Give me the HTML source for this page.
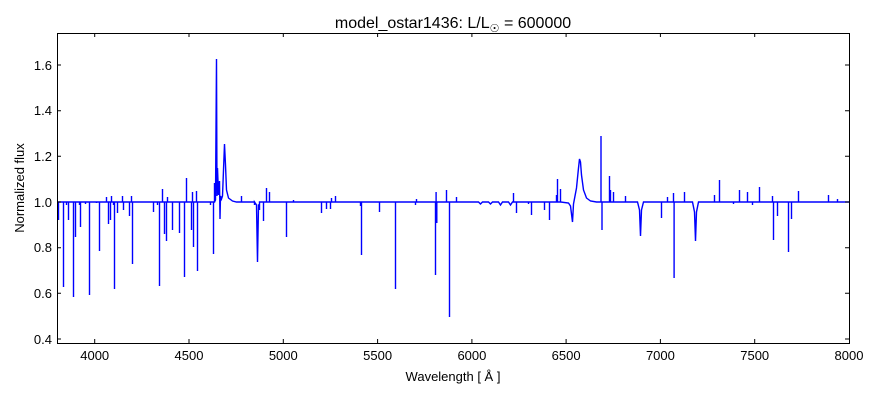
<!DOCTYPE html>
<html><head><meta charset="utf-8"><style>
html,body{margin:0;padding:0;background:#fff;}
svg{display:block;font-family:"Liberation Sans","DejaVu Sans",sans-serif;}
</style></head><body>
<svg width="880" height="400" viewBox="0 0 880 400" xmlns="http://www.w3.org/2000/svg">
<rect width="880" height="400" fill="#fff"/>
<text x="453" y="28" font-size="16" text-anchor="middle">model_ostar1436: L/L<tspan font-size="11" dy="4">☉</tspan><tspan dy="-4"> = 600000</tspan></text>
<path transform="translate(0.5,0)" fill="none" stroke="#0000ff" stroke-width="1.4" d="M57 202
H58 V220 V202 H63 V287 V202 H66 V205 V202 H68 V220 V202 H73 V297 V202 H75 V237 V202 H79 V205 V202 H80 V227 V202 H85 V204 V202 H89 V295 V202 H96 V203 V202 H99 V251 V202
H106 V197 V202 H108 V224 V202 H110 V220 V202 H111 V196 V202 H113 V205 V202 H114 V289 V202 H117 V213 V202 H122 V196 V202 H123 V210 V202 H129 V216 V202 H131 V196 V202 H132 V264 V202
H153 V212 V202 H157 V205 V202 H159 V286 V202 H162 V189 V202 H164 V234 V202 H166 V241 V202 H167 V197 V202 H172 V230 V202 H179 V233 V202 H184 V277 V202 H186 V178 V202
H191 V230 V202 H192 V192 V202 H193 V247 V202 H196 V191 V202 H197 V271 V202 H210 V205 V202 H213 V254 V202 H214 V183 V202
L215 200 L216 59 L216.5 196 L217 168 L218 195 L219 181 L219.5 219 L220 196 L221 199 L222 196 L223 170 L224 144 L225 165 L226 190 L228 198 L232 201 L236 202
H241 V196 V202 H254 V205 V202 L256 205 L257 262 L258 205 H259 V210 V202 H263 V221 V202 H266 V188 V202 H269 V192 V202 H286 V237 V202 H293 V200 V202
H321 V213 V202 H326 V209 V202 H330 V209 V202 H331 V198 V202 H335 V196 V202 H360 V206 V202 H361 V255 V202 H379 V212 V202 H395 V289 V202 H415 V205 V202 H416 V199 V202
H435 V275 V202 H435.6 V192 V202 H436.3 V223 V202 H446 V190 V202 H449 V317 V202 H456 V197 V202
H478 L480 204 L482 202 H488 L490 204 L492 202 H498 L500 205 L502 202 H508 L510 205 L512 202 H513 V193 V202 H516 V213 V202 H528 V204 V202 H531 V215 V202 H544 V210 V202 H549 V220 V202
H556 V195 V202 H557 V179 V202 H560 V189 V202 L568 203 L570 206 L572 222 L573 204 L576 188 L578 168 L579 159 L580 162 L581 175 L583 190 L586 198 L590 201 L596 202
H600.5 V136 V202 H601.5 V230 V202 H609 V176 V202 H610 V190 V202 H613 V192 V202 H625 V196 V202 L637 202 L639 210 L640 236 L641 210 L643 202
H661 V218 V202 H667 V197 V202 H673 V193 V202 H673.6 V278 V202 H684 V192 V202 L692 202 L694 212 L695 241 L696 212 L698 202
H714 V195 V202 H719 V180 V202 H733 V204 V202 H739 V190 V202 H747 V192 V202 H752 V205 V202 H759 V187 V202 H772 V196 V202 H773 V240 V202 H777 V216 V202 H788 V252 V202 H791 V219 V202 H798 V191 V202 H828 V195 V202 H837 V199 V202 H849"/>
<rect x="57.5" y="33.5" width="792" height="310" fill="none" stroke="#000" stroke-width="1"/>
<g stroke="#000" stroke-width="1">
<path d="M94.7 343v-4M94.7 33v4M189 343v-4M189 33v4M283.3 343v-4M283.3 33v4M377.6 343v-4M377.6 33v4M471.9 343v-4M471.9 33v4M566.1 343v-4M566.1 33v4M660.4 343v-4M660.4 33v4M754.7 343v-4M754.7 33v4"/>
<path d="M57 339h4M849 339h-4M57 293.3h4M849 293.3h-4M57 247.7h4M849 247.7h-4M57 202h4M849 202h-4M57 156.3h4M849 156.3h-4M57 110.7h4M849 110.7h-4M57 65h4M849 65h-4"/>
</g>
<g font-size="13" text-anchor="middle">
<text x="94.7" y="360">4000</text><text x="189" y="360">4500</text><text x="283.3" y="360">5000</text><text x="377.6" y="360">5500</text><text x="471.9" y="360">6000</text><text x="566.1" y="360">6500</text><text x="660.4" y="360">7000</text><text x="754.7" y="360">7500</text><text x="849" y="360">8000</text>
</g>
<g font-size="13" text-anchor="end">
<text x="52" y="344">0.4</text><text x="52" y="298">0.6</text><text x="52" y="252">0.8</text><text x="52" y="207">1.0</text><text x="52" y="161">1.2</text><text x="52" y="115">1.4</text><text x="52" y="70">1.6</text>
</g>
<text x="453" y="381" font-size="13" text-anchor="middle">Wavelength [ Å ]</text>
<text transform="translate(24,188) rotate(-90)" font-size="13" text-anchor="middle">Normalized flux</text>
</svg>
</body></html>
